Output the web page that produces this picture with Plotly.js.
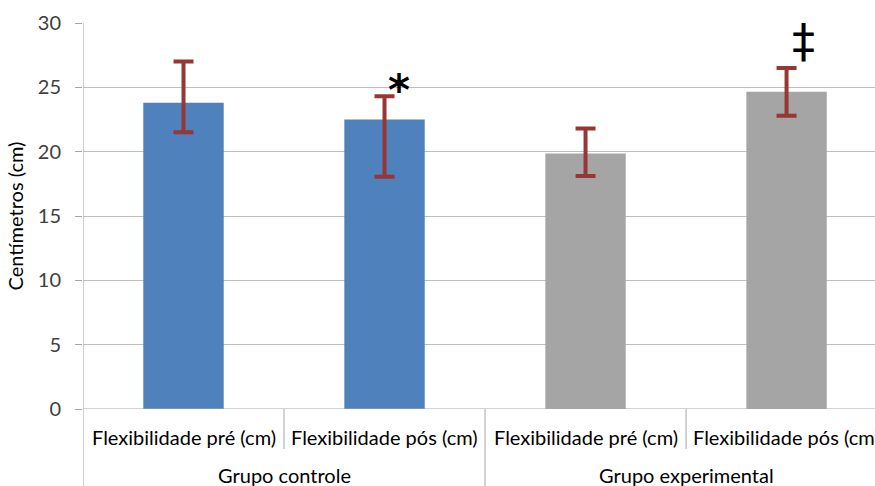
<!DOCTYPE html>
<html>
<head>
<meta charset="utf-8">
<script src="https://cdn.plot.ly/plotly-3.0.1.min.js"></script>
<style>html,body{margin:0;padding:0;background:#fff;overflow:hidden}#chart{width:875px;height:486px}</style>
</head>
<body>
<div id="chart"></div>
<script>
const categories = ["Flexibilidade pré (cm)", "Flexibilidade pós (cm)", "Flexibilidade pré (cm)", "Flexibilidade pós (cm)"];
const groups = ["Grupo controle", "Grupo experimental"];
const means = [23.8, 22.5, 19.85, 24.65];
const upperEnd = [27.0, 24.3, 21.8, 26.5];
const lowerEnd = [21.5, 18.05, 18.1, 22.8];
const markers = ["", "*", "", "‡"];
const barColors = ["#4F81BD", "#4F81BD", "#A5A5A5", "#A5A5A5"];

const xs = categories.map((_, i) => i);
const errPlus = means.map((m, i) => +(upperEnd[i] - m).toFixed(3));
const errMinus = means.map((m, i) => +(m - lowerEnd[i]).toFixed(3));

const trace = {
  type: "bar",
  x: xs,
  y: means,
  width: 0.4,
  marker: {color: barColors, line: {width: 0}},
  error_y: {type: "data", symmetric: false, array: errPlus, arrayminus: errMinus,
            color: "#953735", thickness: 4, width: 10},
  hoverinfo: "none"
};

const font = "Lato, 'Open Sans', sans-serif";
const annotations = [];
categories.forEach((c, i) => {
  annotations.push({x: i, y: 0, xref: "x", yref: "paper", yshift: -28, text: c,
    showarrow: false, font: {family: font, size: 20, color: "#000"}, xanchor: "center", yanchor: "middle"});
  if (markers[i]) {
    const star = markers[i] === "*";
    annotations.push({x: i, y: upperEnd[i], xref: "x", yref: "y", xshift: star ? 14 : 17, yshift: star ? -21 : -2,
      text: markers[i], showarrow: false,
      font: {family: "DejaVu Sans, sans-serif", size: star ? 42 : 46, color: "#000", weight: star ? "bold" : "normal"},
      xanchor: "center", yanchor: "bottom"});
  }
});
groups.forEach((g, k) => {
  annotations.push({x: 2 * k + 0.5, y: 0, xref: "x", yref: "paper", yshift: -66, text: g,
    showarrow: false, font: {family: font, size: 20, color: "#000"}, xanchor: "center", yanchor: "middle"});
});

const shapes = [];
shapes.push({type: "line", xref: "x", yref: "paper", x0: -0.5, x1: -0.5, y0: 1, y1: -77/386,
  line: {color: "#A6A6A6", width: 1}});
shapes.push({type: "line", xref: "x", yref: "paper", x0: 1.5, x1: 1.5, y0: 0, y1: -77/386,
  line: {color: "#A6A6A6", width: 1}});
[0.5, 2.5].forEach(v => shapes.push({type: "line", xref: "x", yref: "paper", x0: v, x1: v, y0: 0, y1: -40/386,
  line: {color: "#A6A6A6", width: 1}}));
shapes.push({type: "line", xref: "paper", yref: "y", x0: 0, x1: 1, y0: 0, y1: 0,
  line: {color: "#A6A6A6", width: 1}});

const layout = {
  width: 875, height: 486,
  margin: {l: 83, r: 0, t: 23, b: 77},
  paper_bgcolor: "#fff", plot_bgcolor: "#fff",
  showlegend: false,
  bargap: 0.6,
  xaxis: {range: [-0.5, 3.44], showticklabels: false, showgrid: false, zeroline: false,
          showline: false, ticks: "", fixedrange: true},
  yaxis: {range: [0, 30], dtick: 5, tick0: 0, showgrid: true, gridcolor: "#BFBFBF", gridwidth: 1,
          zeroline: false, showline: false, ticks: "outside", ticklen: 7, tickcolor: "#A6A6A6",
          ticklabelstandoff: 10,
          tickfont: {family: font, size: 20, color: "#404040"},
          title: {text: "Centímetros (cm)", font: {family: font, size: 20, color: "#000"}, standoff: 8},
          fixedrange: true},
  annotations: annotations,
  shapes: shapes
};

Plotly.newPlot("chart", [trace], layout, {displayModeBar: false, staticPlot: true});
</script>
</body>
</html>
